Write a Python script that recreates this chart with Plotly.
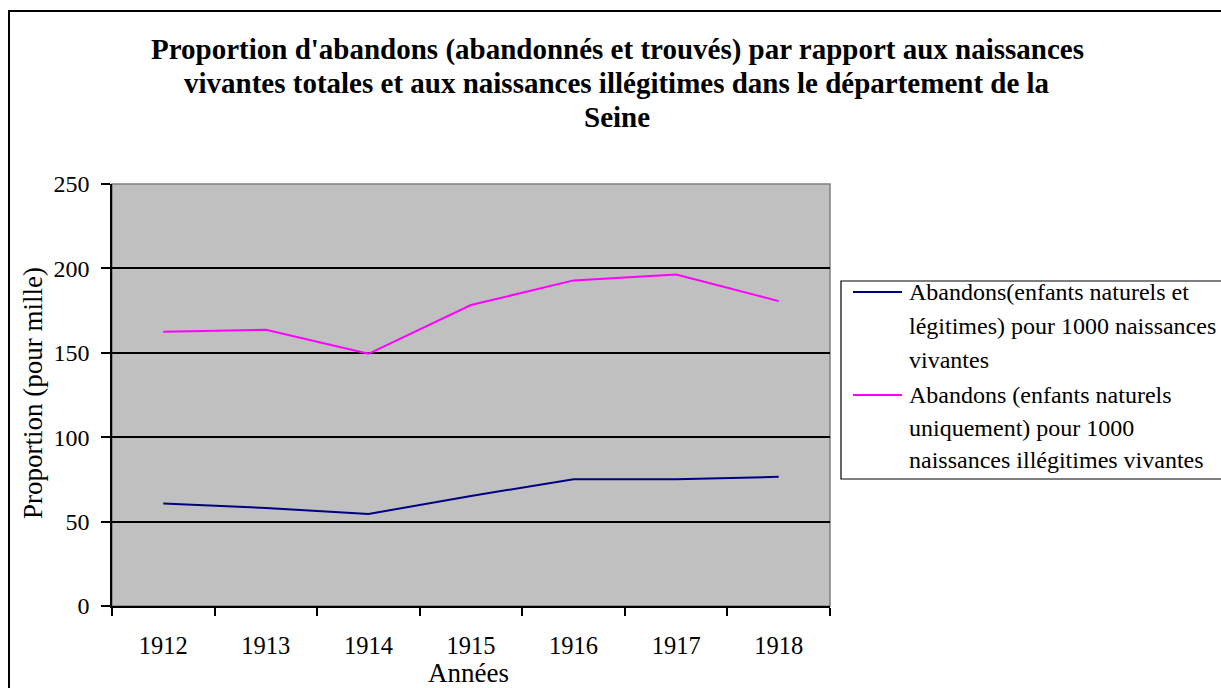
import plotly.graph_objects as go

years = ["1912", "1913", "1914", "1915", "1916", "1917", "1918"]
abandons_total = [60.7, 58.1, 54.5, 65.2, 75.1, 75.1, 76.5]
abandons_illegit = [162.5, 163.6, 149.4, 178.3, 192.9, 196.4, 180.6]

series_names = [
    ["Abandons(enfants naturels et", "légitimes) pour 1000 naissances", "vivantes"],
    ["Abandons (enfants naturels", "uniquement) pour 1000", "naissances illégitimes vivantes"],
]
series_colors = ["#000080", "#FF00FF"]
title_lines = [
    "Proportion d'abandons (abandonnés et trouvés) par rapport aux naissances",
    "vivantes totales et aux naissances illégitimes dans le département de la",
    "Seine",
]

FONT = "Liberation Serif, serif"
W, H = 1221, 688
L, R, T, B = 112, 830, 184, 606


def px(x):
    return (x - L) / (R - L)


def py(y):
    return (B - y) / (B - T)


fig = go.Figure()
for vals, names, col in zip([abandons_total, abandons_illegit], series_names, series_colors):
    fig.add_trace(go.Scatter(x=years, y=vals, mode="lines", name=" ".join(names),
                             line=dict(color=col, width=2), showlegend=False))

annotations = []
for i, (txt, yy) in enumerate(zip(title_lines, [50, 83, 117])):
    annotations.append(dict(text="<b>" + txt + "</b>", x=px(617), y=py(yy), xref="paper", yref="paper",
                            xanchor="center", yanchor="middle", showarrow=False,
                            font=dict(family=FONT, size=29, color="black")))

legend_y = [[292, 326, 360], [395, 428, 460]]
shapes = [
    # outer frame
    dict(type="rect", xref="paper", yref="paper", x0=px(9), x1=px(1240), y0=py(11), y1=py(700),
         line=dict(color="black", width=2), fillcolor="rgba(0,0,0,0)", layer="below"),
    # plot area gray border
    dict(type="rect", xref="paper", yref="paper", x0=0, x1=1, y0=0, y1=1,
         line=dict(color="#808080", width=1.5), fillcolor="rgba(0,0,0,0)", layer="between"),
    # legend box
    dict(type="rect", xref="paper", yref="paper", x0=px(841), x1=px(1240), y0=py(281), y1=py(479),
         line=dict(color="black", width=1.2), fillcolor="white", layer="above"),
]
for names, ys, col in zip(series_names, legend_y, series_colors):
    shapes.append(dict(type="line", xref="paper", yref="paper", x0=px(853), x1=px(902),
                       y0=py(ys[0]), y1=py(ys[0]), line=dict(color=col, width=2), layer="above"))
    for txt, yy in zip(names, ys):
        annotations.append(dict(text=txt, x=px(907), y=py(yy), xref="paper", yref="paper",
                                xanchor="left", yanchor="middle", showarrow=False,
                                font=dict(family=FONT, size=24, color="black")))

annotations.append(dict(text="Années", x=px(468), y=py(673), xref="paper", yref="paper",
                        xanchor="center", yanchor="middle", showarrow=False,
                        font=dict(family=FONT, size=27, color="black")))
annotations.append(dict(text="Proportion (pour mille)", x=px(33), y=py(393), xref="paper", yref="paper",
                        xanchor="center", yanchor="middle", showarrow=False, textangle=-90,
                        font=dict(family=FONT, size=27, color="black")))

fig.update_layout(
    width=W, height=H,
    margin=dict(l=L, r=W - R, t=T, b=H - B, pad=0),
    paper_bgcolor="white", plot_bgcolor="#C0C0C0",
    font=dict(family=FONT, size=22, color="black"),
    shapes=shapes, annotations=annotations, showlegend=False,
    xaxis=dict(type="category", range=[-0.5, 6.5], tickson="boundaries", ticks="outside", ticklen=8,
               tickwidth=1.5, tickcolor="black", showline=True, linecolor="black", linewidth=1.5,
               showgrid=False, tickfont=dict(family=FONT, size=24.5), ticklabelstandoff=17, fixedrange=True),
    yaxis=dict(range=[0, 250], dtick=50, ticks="outside", ticklen=9, tickwidth=1.5, tickcolor="black",
               showline=True, linecolor="black", linewidth=1.5, showgrid=True, gridcolor="black",
               gridwidth=1.5, zeroline=False, tickfont=dict(family=FONT, size=24), ticklabelstandoff=7,
               fixedrange=True),
)

fig.write_html("out.html", config={"displayModeBar": False},
               post_script="document.body.style.margin='0';document.body.style.overflow='hidden';")
